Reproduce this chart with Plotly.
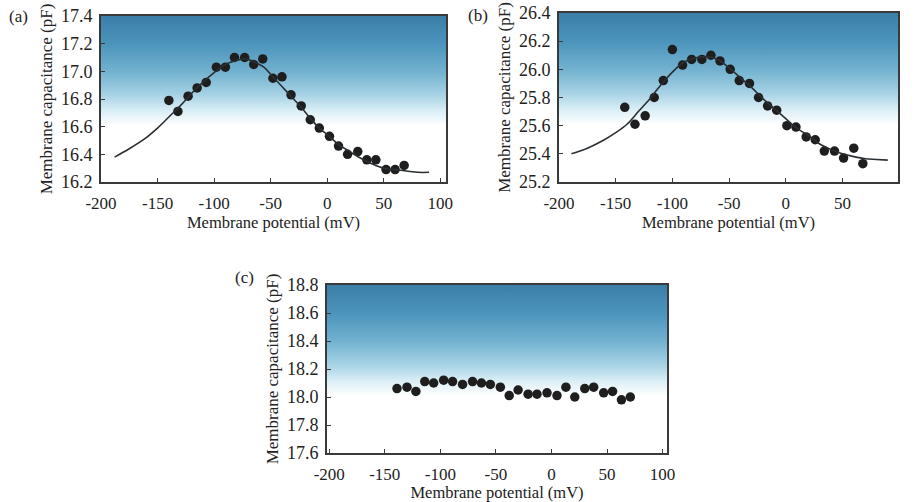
import base64
import plotly.graph_objects as go

# ---------------- data ----------------
vm_a = [-140, -132, -123, -115, -107, -98, -90, -82, -73, -65, -57, -48, -40,
        -32, -23, -15, -7, 2, 10, 18, 27, 35, 43, 52, 60, 68]
cm_a = [16.79, 16.71, 16.82, 16.88, 16.92, 17.03, 17.03, 17.10, 17.10, 17.05, 17.09,
        16.95, 16.96, 16.83, 16.75, 16.65, 16.59, 16.53, 16.46, 16.40, 16.42, 16.36,
        16.36, 16.29, 16.29, 16.32]
fit_vm_a = [-188, -175, -160, -150, -140, -130, -120, -110, -100, -90, -80, -72, -65,
            -56, -48, -40, -32, -23, -15, -7, 2, 10, 20, 30, 40, 50, 60, 70, 80, 90]
fit_cm_a = [16.38, 16.44, 16.52, 16.59, 16.67, 16.75, 16.84, 16.92, 16.99, 17.05, 17.08,
            17.09, 17.07, 17.03, 16.96, 16.89, 16.82, 16.74, 16.66, 16.59, 16.53, 16.47,
            16.42, 16.37, 16.33, 16.30, 16.29, 16.28, 16.27, 16.27]

vm_b = [-142, -133, -124, -116, -108, -100, -91, -83, -74, -66, -58, -49, -41,
        -32, -24, -16, -8, 1, 9, 18, 26, 34, 43, 51, 60, 68]
cm_b = [25.73, 25.61, 25.67, 25.80, 25.92, 26.14, 26.03, 26.07, 26.07, 26.10, 26.06,
        26.00, 25.92, 25.90, 25.80, 25.74, 25.71, 25.60, 25.59, 25.52, 25.50, 25.42,
        25.42, 25.37, 25.44, 25.33]
fit_vm_b = [-189, -175, -160, -150, -140, -130, -120, -110, -100, -90, -80, -70, -60,
            -50, -40, -30, -20, -10, 0, 10, 20, 30, 40, 50, 60, 70, 80, 90]
fit_cm_b = [25.40, 25.44, 25.50, 25.55, 25.61, 25.70, 25.79, 25.89, 25.98, 26.05, 26.08,
            26.09, 26.07, 26.01, 25.94, 25.87, 25.79, 25.72, 25.65, 25.58, 25.53, 25.47,
            25.43, 25.40, 25.38, 25.365, 25.36, 25.355]

vm_c = [-139, -130, -122, -114, -106, -97, -89, -80, -71, -63, -55, -46, -38,
        -30, -21, -13, -4, 5, 13, 21, 30, 38, 47, 55, 63, 71]
cm_c = [18.06, 18.07, 18.04, 18.11, 18.10, 18.12, 18.11, 18.09, 18.11, 18.10, 18.09,
        18.07, 18.01, 18.05, 18.02, 18.02, 18.03, 18.01, 18.07, 18.00, 18.06, 18.07,
        18.03, 18.04, 17.98, 18.00]

x_ticks = [-200, -150, -100, -50, 0, 50, 100]
y_ticks_a = [16.2, 16.4, 16.6, 16.8, 17.0, 17.2, 17.4]
y_ticks_b = [25.2, 25.4, 25.6, 25.8, 26.0, 26.2, 26.4]
y_ticks_c = [17.6, 17.8, 18.0, 18.2, 18.4, 18.6, 18.8]

x_title = "Membrane potential (mV)"
y_title = "Membrane capacitance (pF)"
panel_labels = ["(a)", "(b)", "(c)"]

# ---------------- styling ----------------
W, H = 917, 502
FONT = "Liberation Serif, Times New Roman, serif"
INK = "#222222"
DOT = "#1e1e1e"

def px_dom(x0, x1):
    return [x0 / W, x1 / W]

def py_dom(top, bottom):
    return [1 - bottom / H, 1 - top / H]

panels = [
    dict(xd=px_dom(101, 446), yd=py_dom(16, 182), xr=[-200, 105], yr=[16.2, 17.4],
         yt=y_ticks_a, vm=vm_a, cm=cm_a, fx=fit_vm_a, fy=fit_cm_a),
    dict(xd=px_dom(559, 898), yd=py_dom(13, 182), xr=[-200, 99], yr=[25.2, 26.4],
         yt=y_ticks_b, vm=vm_b, cm=cm_b, fx=fit_vm_b, fy=fit_cm_b),
    dict(xd=px_dom(327, 667), yd=py_dom(285, 453), xr=[-202, 104], yr=[17.6, 18.8],
         yt=y_ticks_c, vm=vm_c, cm=cm_c, fx=None, fy=None),
]

svg = ('<svg xmlns="http://www.w3.org/2000/svg" width="100" height="100" '
       'preserveAspectRatio="none"><defs><linearGradient id="g" x1="0" y1="0" x2="0" y2="1">'
       '<stop offset="0" stop-color="#3a7ea7"/>'
       '<stop offset="0.18" stop-color="#4e96bd"/>'
       '<stop offset="0.34" stop-color="#74b3d0"/>'
       '<stop offset="0.47" stop-color="#a5d1e4"/>'
       '<stop offset="0.57" stop-color="#d9eef5"/>'
       '<stop offset="0.66" stop-color="#ffffff"/>'
       '<stop offset="1" stop-color="#ffffff"/>'
       '</linearGradient></defs><rect width="100" height="100" fill="url(#g)"/></svg>')
grad_src = "data:image/svg+xml;base64," + base64.b64encode(svg.encode()).decode()

fig = go.Figure()
layout = dict(
    width=W, height=H, margin=dict(l=0, r=0, t=0, b=0, pad=0, autoexpand=False),
    paper_bgcolor="white", plot_bgcolor="white", showlegend=False,
    font=dict(family=FONT, size=17, color=INK),
)
images = []
annotations = []

for i, p in enumerate(panels):
    n = "" if i == 0 else str(i + 1)
    xa, ya = "x" + n, "y" + n
    fig.add_trace(go.Scatter(x=p["vm"], y=p["cm"], mode="markers", xaxis=xa, yaxis=ya,
                             marker=dict(size=9.5, color=DOT), cliponaxis=False))
    if p["fx"] is not None:
        fig.add_trace(go.Scatter(x=p["fx"], y=p["fy"], mode="lines", xaxis=xa, yaxis=ya,
                                 line=dict(color="#2a2f33", width=1.6, shape="spline")))
    common = dict(showline=True, linecolor="#3a3a3a", linewidth=1.6, mirror=True,
                  ticks="inside", ticklen=4, tickwidth=1, tickcolor="#3a3a3a",
                  showgrid=False, zeroline=False, automargin=False)
    layout["xaxis" + n] = dict(domain=p["xd"], range=p["xr"], anchor=ya, tickvals=x_ticks,
                              ticktext=[str(v) for v in x_ticks], ticklabelstandoff=5,
                              tickfont=dict(family=FONT, size=17, color=INK),
                              title=dict(text=x_title, standoff=3,
                                         font=dict(family=FONT, size=16.5, color=INK)),
                              **common)
    layout["yaxis" + n] = dict(domain=p["yd"], range=p["yr"], anchor=xa, tickvals=p["yt"],
                              ticktext=["%.1f" % v for v in p["yt"]], ticklabelstandoff=3,
                              tickfont=dict(family=FONT, size=18, color=INK),
                              title=dict(text=y_title, standoff=4,
                                         font=dict(family=FONT, size=17, color=INK)),
                              **common)
    images.append(dict(source=grad_src, xref=xa + " domain", yref=ya + " domain",
                       x=0, y=1, sizex=1, sizey=1, xanchor="left", yanchor="top",
                       sizing="stretch", layer="below"))

label_pos = [(7, 17), (466, 16), (233, 277)]
for lab, (lx, ly) in zip(panel_labels, label_pos):
    annotations.append(dict(text=lab, xref="paper", yref="paper", x=lx / W, y=1 - ly / H,
                            xanchor="left", yanchor="middle", showarrow=False,
                            font=dict(family=FONT, size=17, color=INK)))

layout["images"] = images
layout["annotations"] = annotations
fig.update_layout(**layout)
fig.write_html("out.html")
